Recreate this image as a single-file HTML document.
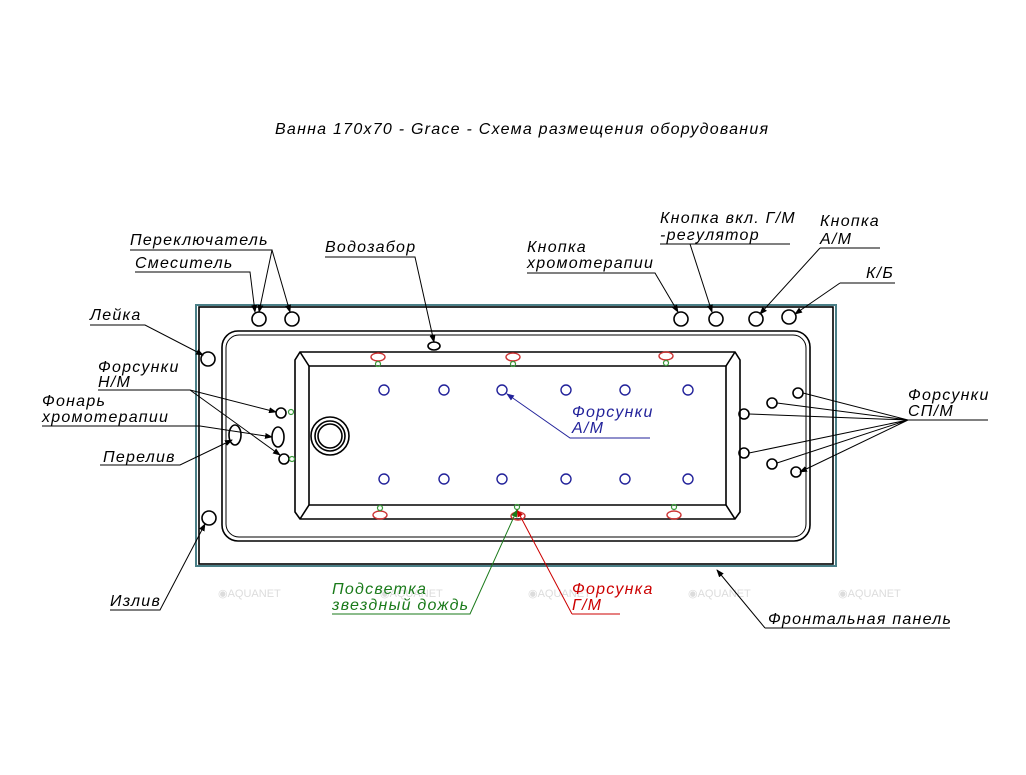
<!DOCTYPE html>
<html><head><meta charset="utf-8"><style>
body{margin:0;background:#fff}
svg text{font-family:"Liberation Sans",sans-serif;font-style:italic;font-size:16px;letter-spacing:1.25px}
</style></head><body>
<svg width="1026" height="770" viewBox="0 0 1026 770" xmlns="http://www.w3.org/2000/svg">
<defs><marker id="a" markerWidth="8" markerHeight="6" refX="7" refY="3" orient="auto"><path d="M0,0L8,3L0,6z" fill="#000"/></marker>
<marker id="ab" markerWidth="8" markerHeight="6" refX="7" refY="3" orient="auto"><path d="M0,0L8,3L0,6z" fill="#22229a"/></marker>
<marker id="ar" markerWidth="8" markerHeight="6" refX="7" refY="3" orient="auto"><path d="M0,0L8,3L0,6z" fill="#c00"/></marker>
<marker id="ag" markerWidth="8" markerHeight="6" refX="7" refY="3" orient="auto"><path d="M0,0L8,3L0,6z" fill="#1a7a1a"/></marker></defs>
<text x="275" y="134">Ванна 170x70 - Grace - Схема размещения оборудования</text>
<g fill="none" stroke="#000" stroke-width="1.6">
<rect x="196" y="305" width="640" height="261" stroke="#4a7f87" stroke-width="2"/>
<rect x="199" y="307" width="634" height="257"/>
<rect x="222" y="331" width="588" height="210" rx="16"/>
<rect x="226" y="335" width="580" height="202" rx="13" stroke-width="1"/>
<path d="M300,352H735L740,360V512L735,519H300L295,512V360Z"/>
<path d="M309,366H726V505H309Z"/>
<path d="M300,352L309,366M735,352L726,366M300,519L309,505M735,519L726,505"/>
<circle cx="330" cy="436" r="19"/><circle cx="330" cy="436" r="15"/><circle cx="330" cy="436" r="12"/>
<circle cx="259" cy="319" r="7"/><circle cx="292" cy="319" r="7"/><circle cx="208" cy="359" r="7"/><circle cx="209" cy="518" r="7"/>
<ellipse cx="434" cy="346" rx="6" ry="4"/>
<circle cx="681" cy="319" r="7"/><circle cx="716" cy="319" r="7"/><circle cx="756" cy="319" r="7"/><circle cx="789" cy="317" r="7"/>
<circle cx="281" cy="413" r="5"/><ellipse cx="278" cy="437" rx="6" ry="10"/><circle cx="284" cy="459" r="5"/><ellipse cx="235" cy="435" rx="6" ry="10"/>
<circle cx="798" cy="393" r="5"/><circle cx="772" cy="403" r="5"/><circle cx="744" cy="414" r="5"/><circle cx="744" cy="453" r="5"/><circle cx="772" cy="464" r="5"/><circle cx="796" cy="472" r="5"/>
</g>
<g fill="none" stroke="#22229a" stroke-width="1.4">
<circle cx="384" cy="390" r="5"/><circle cx="444" cy="390" r="5"/><circle cx="502" cy="390" r="5"/><circle cx="566" cy="390" r="5"/><circle cx="625" cy="390" r="5"/><circle cx="688" cy="390" r="5"/>
<circle cx="384" cy="479" r="5"/><circle cx="444" cy="479" r="5"/><circle cx="502" cy="479" r="5"/><circle cx="566" cy="479" r="5"/><circle cx="625" cy="479" r="5"/><circle cx="688" cy="479" r="5"/>
</g>
<g fill="none" stroke="#c33" stroke-width="1.4">
<ellipse cx="378" cy="357" rx="7" ry="4"/><ellipse cx="513" cy="357" rx="7" ry="4"/><ellipse cx="666" cy="356" rx="7" ry="4"/>
<ellipse cx="380" cy="515" rx="7" ry="4"/><ellipse cx="518" cy="516" rx="7" ry="4"/><ellipse cx="674" cy="515" rx="7" ry="4"/>
</g>
<g fill="none" stroke="#3a9a3a" stroke-width="1.2">
<circle cx="378" cy="364" r="2.5"/><circle cx="513" cy="364" r="2.5"/><circle cx="666" cy="363" r="2.5"/>
<circle cx="380" cy="508" r="2.5"/><circle cx="517" cy="507" r="2.5"/><circle cx="674" cy="507" r="2.5"/>
<circle cx="291" cy="412" r="2.5"/><circle cx="292" cy="459" r="2.5"/>
</g>
<g fill="#dcdcdc">
<text x="218" y="597" style="font-size:11px;font-style:normal;letter-spacing:0">◉AQUANET</text><text x="380" y="597" style="font-size:11px;font-style:normal;letter-spacing:0">◉AQUANET</text><text x="528" y="597" style="font-size:11px;font-style:normal;letter-spacing:0">◉AQUANET</text><text x="688" y="597" style="font-size:11px;font-style:normal;letter-spacing:0">◉AQUANET</text><text x="838" y="597" style="font-size:11px;font-style:normal;letter-spacing:0">◉AQUANET</text>
</g>
<g stroke="#000" stroke-width="1" fill="none">
<path d="M130,250H272L259,312" marker-end="url(#a)"/>
<path d="M272,250L290,312" marker-end="url(#a)"/>
<path d="M135,272H250L255,312" marker-end="url(#a)"/>
<path d="M325,257H415L434,342" marker-end="url(#a)"/>
<path d="M90,325H145L203,355" marker-end="url(#a)"/>
<path d="M98,390H190L276,412" marker-end="url(#a)"/>
<path d="M190,390L280,455" marker-end="url(#a)"/>
<path d="M42,426H200L272,437" marker-end="url(#a)"/>
<path d="M100,465H180L232,440" marker-end="url(#a)"/>
<path d="M110,610H160L205,524" marker-end="url(#a)"/>
<path d="M527,273H655L678,312" marker-end="url(#a)"/>
<path d="M660,244H790M690,244L712,312" marker-end="url(#a)"/>
<path d="M820,248H880M820,248L760,314" marker-end="url(#a)"/>
<path d="M840,283H895M840,283L795,314" marker-end="url(#a)"/>
<path d="M908,420H988"/>
<path d="M908,420L803,393M908,420L777,403M908,420L749,414M908,420L749,453M908,420L777,463M908,420L800,472" marker-end="url(#a)"/>
<path d="M765,628H950M765,628L717,570" marker-end="url(#a)"/>
</g>
<path d="M650,438H570L507,394" stroke="#22229a" fill="none" marker-end="url(#ab)"/>
<path d="M572,614H620M572,614L517,510" stroke="#c00" fill="none" marker-end="url(#ar)"/>
<path d="M332,614H470L517,510" stroke="#1a7a1a" fill="none" marker-end="url(#ag)"/>
<text x="130" y="245">Переключатель</text>
<text x="135" y="268">Смеситель</text>
<text x="325" y="252">Водозабор</text>
<text x="90" y="320">Лейка</text>
<text x="98" y="372">Форсунки</text><text x="98" y="387">Н/М</text>
<text x="42" y="406">Фонарь</text><text x="42" y="422">хромотерапии</text>
<text x="103" y="462">Перелив</text>
<text x="110" y="606">Излив</text>
<text x="527" y="252">Кнопка</text><text x="527" y="268">хромотерапии</text>
<text x="660" y="223">Кнопка вкл. Г/М</text><text x="660" y="240">-регулятор</text>
<text x="820" y="226">Кнопка</text><text x="820" y="244">А/М</text>
<text x="866" y="278">К/Б</text>
<text x="908" y="400">Форсунки</text><text x="908" y="416">СП/М</text>
<text x="572" y="417" fill="#22229a">Форсунки</text><text x="572" y="433" fill="#22229a">А/М</text>
<text x="332" y="594" fill="#1a7a1a">Подсветка</text><text x="332" y="610" fill="#1a7a1a">звездный дождь</text>
<text x="572" y="594" fill="#c00">Форсунка</text><text x="572" y="610" fill="#c00">Г/М</text>
<text x="768" y="624">Фронтальная панель</text>
</svg>
</body></html>
